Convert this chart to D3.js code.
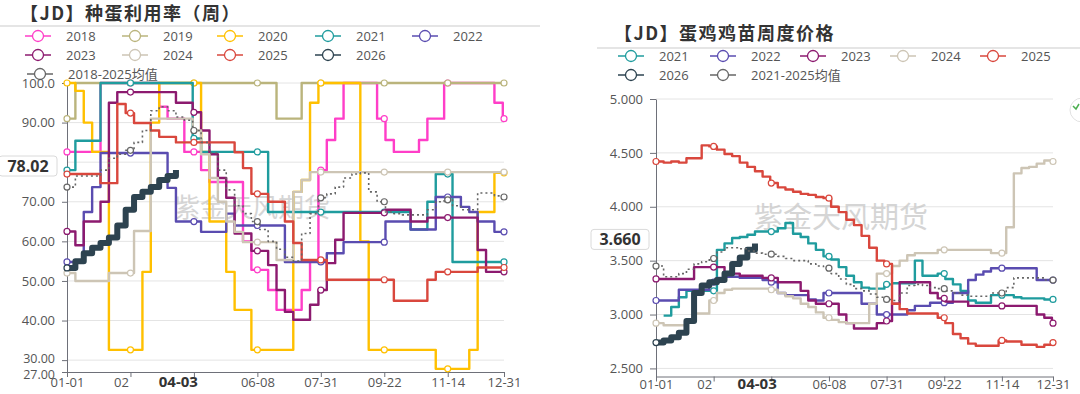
<!DOCTYPE html>
<html>
<head>
<meta charset="utf-8">
<script src="https://cdn.jsdelivr.net/npm/d3@7"></script>
<style>
  body { margin: 0; background: #fff; }
  svg { display: block; font-family: "Open Sans", "Noto Sans CJK SC", sans-serif; }
</style>
</head>
<body>
<svg id="chart" width="1080" height="394"></svg>
<script>
/* SHARED X AXIS (day of year, weekly data sits on day = week * 7) */
const xTickDays = [0, 53, 106, 159, 212, 265, 318, 365];
const xTickLabels = ["01-01", "02-23", "04-16", "06-08", "07-31", "09-22", "11-14", "12-31"];
const pointerDay = 93;
const pointerLabel = "04-03";

/* LEFT: 种蛋利用率 (%) weekly */
const utilNames = ["2018", "2019", "2020", "2021", "2022", "2023", "2024", "2025", "2026", "2018-2025均值"];
const util2018 = [82.6, 82.6, 82.6, 82.6, 100, 100, 100, 100, 100, 100, 100, 94, 91, 91, 82.6, 82.6, 78, 75, 75, 75, 75, 60, 52.8, 52.8, 47.7, 42.7, 42.7, 42.7, 47.7, 55, 78, 85.6, 91, 100, 100, 100, 100, 91, 85.6, 82.6, 82.6, 82.6, 85.6, 91, 91, 100, 100, 100, 100, 100, 100, 95, 91];
const util2019 = [91, 100, 100, 100, 100, 100, 100, 100, 100, 100, 100, 100, 100, 100, 100, 100, 100, 100, 100, 100, 100, 100, 100, 100, 100, 91, 91, 91, 100, 100, 100, 100, 100, 100, 100, 100, 100, 100, 100, 100, 100, 100, 100, 100, 100, 100, 100, 100, 100, 100, 100, 100, 100];
const util2020 = [100, 98, 90, 82.6, 82.6, 32.6, 32.6, 32.6, 32.6, 52.3, 90, 100, 100, 100, 100, 100, 82.6, 65, 65, 52.3, 42.7, 42.7, 32.6, 32.6, 32.6, 32.6, 32.6, 72.5, 75.5, 95, 100, 100, 100, 100, 100, 60, 32.6, 32.6, 32.6, 32.6, 32.6, 32.6, 32.6, 32.6, 27.8, 27.8, 27.8, 27.8, 32.6, 67.4, 67.4, 77.3, 77.3];
const util2021 = [78, 85.4, 85.4, 85.4, 100, 100, 100, 100, 100, 100, 100, 100, 100, 100, 100, 86, 82.6, 82.6, 82.6, 82.6, 82.6, 82.6, 82.6, 82.6, 67.4, 67.4, 67.4, 67.4, 67.4, 67.4, 67.4, 67.4, 67.4, 67.4, 67.4, 67.4, 67.4, 67.4, 67.4, 67.4, 67.4, 63, 63, 70, 77, 77, 54.8, 54.8, 54.8, 54.8, 54.8, 54.8, 54.8];
const util2022 = [54.8, 54.8, 67.4, 73.7, 82.3, 82.3, 82.3, 82.3, 82.3, 82.3, 82.3, 82.3, 73.5, 65, 65, 65, 62.4, 62.4, 62.4, 67, 64, 64, 64, 64, 64, 64, 54.8, 54.8, 54.8, 54.8, 54.8, 57, 57, 59.8, 59.8, 59.8, 59.8, 59.8, 65, 65, 65, 63, 63, 63, 71.2, 71.2, 71.2, 68.7, 67.4, 65, 65, 62.4, 62.4];
const util2023 = [62.5, 59, 65, 65, 70, 95, 97.7, 97.7, 97.7, 97.7, 97.7, 97.7, 97.7, 95, 95, 92.6, 88, 82, 76, 71, 62, 62, 57.6, 57.6, 54, 47.7, 42.2, 40.2, 40.2, 44, 47.7, 54.5, 60.4, 67.2, 67.2, 67.2, 67.2, 67.2, 68, 68, 68, 65, 65, 66, 66, 66, 66, 66, 66, 57.8, 52.3, 52.3, 52.3];
const util2024 = [52, 50, 50, 50, 50, 52, 52, 52, 62.6, 62.6, 91, 91, 91, 91, 91, 88, 82, 76, 70, 65, 62.4, 59.8, 59.8, 59.8, 59.8, 55.3, 55.3, 72.5, 75.5, 77.5, 77.5, 77.5, 77.5, 77.5, 77.5, 77.5, 77.5, 77.5, 77.5, 77.5, 77.5, 77.5, 77.5, 77.5, 77.5, 77.5, 77.5, 77.5, 77.5, 77.5, 77.5, 77.5, 77.5];
const util2025 = [77, 77, 77, 77, 74.7, 74.7, 94.7, 92.4, 89.9, 89.9, 88, 86.4, 86.4, 85, 85, 85, 85, 85, 85, 85, 82.5, 78.5, 72, 72, 70, 70, 65, 59.6, 55.3, 55.3, 55.3, 50.3, 50.3, 50.3, 50.3, 50.3, 50.3, 50.3, 50.3, 45, 45, 45, 45, 50.3, 52.3, 52.3, 52.3, 52.3, 52.3, 53.4, 53.4, 53.4, 53.4];
const util2026 = [53.3, 55, 57, 58.4, 59.6, 61, 64, 68, 71.2, 72.5, 73.7, 75.5, 76.5, 78.02];
const utilAvg = [73.7, 76.5, 76.5, 76.5, 78, 81, 82, 83, 85, 88, 93, 94, 93, 91.4, 90.6, 88, 85, 82.3, 78, 73, 69, 67, 65, 63, 60, 58, 56, 55, 62, 67, 71, 72, 73.7, 76, 77, 77.3, 72.5, 70, 67.4, 67, 66.7, 66.7, 66.7, 68, 70, 70.5, 69, 68, 68, 72.2, 72.2, 71.5, 71.2];
const utilYTicks = [27, 30, 40, 50, 60, 70, 90, 100];
const utilYTickLabels = ["27.00", "30.00", "40.00", "50.00", "60.00", "70.00", "90.00", "100.0"];
const utilGrid = [30, 40, 50, 60, 70, 80, 90, 100];
const utilLatest = 78.02;
const utilLatestLabel = "78.02";

/* RIGHT: 蛋鸡鸡苗周度价格 weekly */
const priceNames = ["2021", "2022", "2023", "2024", "2025", "2026", "2021-2025均值"];
const price2021 = [null, 2.99, 3.07, 3.16, 3.22, 3.22, 3.22, 3.22, 3.6, 3.66, 3.71, 3.72, 3.74, 3.77, 3.77, 3.77, 3.8, 3.85, 3.75, 3.72, 3.66, 3.6, 3.54, 3.51, 3.44, 3.36, 3.3, 3.25, 3.24, 3.24, 3.28, 3.29, 3.29, 3.29, 3.5, 3.36, 3.36, 3.38, 3.33, 3.28, 3.22, 3.13, 3.11, 3.11, 3.18, 3.18, 3.18, 3.16, 3.15, 3.15, 3.15, 3.14, 3.14];
const price2022 = [3.13, 3.13, 3.13, 3.23, 3.23, 3.23, 3.23, 3.3, 3.34, 3.35, 3.35, 3.34, 3.34, 3.34, 3.32, 3.3, 3.2, 3.18, 3.18, 3.18, 3.14, 3.13, 3.2, 3.2, 3.2, 3.2, 3.2, 3.1, 3.1, 3.0, 3.0, 3.0, 3.0, 3.04, 3.08, 3.08, 3.11, 3.11, 3.11, 3.2, 3.2, 3.32, 3.37, 3.4, 3.43, 3.43, 3.43, 3.43, 3.43, 3.43, 3.32, 3.32, 3.32];
const price2023 = [3.33, 3.33, 3.33, 3.33, 3.33, 3.44, 3.44, 3.44, 3.44, 3.38, 3.38, 3.36, 3.36, 3.36, 3.34, 3.34, 3.3, 3.3, 3.3, 3.22, 3.13, 3.1, 3.1, 3.1, 3.0, 2.92, 2.87, 2.87, 2.87, 2.92, 2.94, 3.1, 3.3, 3.3, 3.3, 3.3, 3.2, 3.15, 3.12, 3.12, 3.12, 3.08, 3.08, 3.08, 3.08, 3.08, 3.08, 3.08, 3.08, 3.08, 3.0, 2.97, 2.92];
const price2024 = [2.92, 2.9, 2.9, 2.9, 2.95, 3.01, 3.01, 3.13, 3.2, 3.23, 3.24, 3.24, 3.24, 3.24, 3.24, 3.23, 3.2, 3.17, 3.15, 3.1, 3.07, 3.02, 2.97, 2.95, 2.93, 2.92, 2.92, 2.92, 3.1, 3.38, 3.38, 3.45, 3.5, 3.55, 3.57, 3.57, 3.57, 3.6, 3.6, 3.6, 3.6, 3.6, 3.6, 3.6, 3.57, 3.57, 3.81, 4.31, 4.36, 4.37, 4.4, 4.43, 4.42];
const price2025 = [4.42, 4.41, 4.42, 4.41, 4.45, 4.45, 4.57, 4.56, 4.53, 4.49, 4.47, 4.41, 4.37, 4.33, 4.28, 4.22, 4.18, 4.16, 4.14, 4.12, 4.11, 4.09, 4.08, 4.0, 3.95, 3.88, 3.83, 3.73, 3.62, 3.5, 3.47, 3.1, 3.05, 3.01, 3.01, 3.01, 3.01, 2.97, 2.92, 2.82, 2.78, 2.73, 2.71, 2.71, 2.71, 2.76, 2.75, 2.75, 2.72, 2.72, 2.7, 2.72, 2.74];
const price2026 = [2.74, 2.76, 2.79, 2.83, 2.94, 3.2, 3.27, 3.3, 3.32, 3.38, 3.47, 3.53, 3.6, 3.66];
const priceAvg = [3.45, 3.35, 3.35, 3.38, 3.42, 3.47, 3.49, 3.52, 3.58, 3.62, 3.62, 3.61, 3.59, 3.57, 3.56, 3.56, 3.54, 3.52, 3.5, 3.5, 3.47, 3.45, 3.43, 3.38, 3.33, 3.28, 3.24, 3.22, 3.19, 3.16, 3.14, 3.13, 3.2, 3.27, 3.28, 3.27, 3.25, 3.24, 3.22, 3.2, 3.18, 3.17, 3.17, 3.17, 3.2, 3.2, 3.25, 3.34, 3.34, 3.34, 3.34, 3.32, 3.32];
const priceYTicks = [2.5, 3, 3.5, 4, 4.5, 5];
const priceYTickLabels = ["2.500", "3.000", "3.500", "4.000", "4.500", "5.000"];
const priceLatest = 3.66;
const priceLatestLabel = "3.660";

/* STYLES */
const colors = {
  "2018": "#ff3ec8", "2019": "#bab47c", "2020": "#ffc000", "2021": "#1f9c9e",
  "2022": "#5a4cb0", "2023": "#8c1a6f", "2024": "#cdc5b5", "2025": "#d9473d",
  "2026": "#2d4350", "avg": "#666"
};
const watermark = "紫金天风期货";

const svg = d3.select("#chart");

function stepPoints(vals) {
  const pts = [];
  vals.forEach((v, i) => { if (v != null) pts.push({ day: i * 7, v: v }); });
  if (vals.length === 53) pts.push({ day: 365, v: vals[52] });
  return pts;
}

function seriesStyle(name, values) {
  if (name === "2026") return { name, values, color: colors["2026"], width: 6, markers: "start" };
  if (name.indexOf("均值") > 0) return { name, values, color: colors.avg, width: 1.6, dash: "2,3", markers: "all" };
  return { name, values, color: colors[name], width: 2.4, markers: "all" };
}

function drawPanel(p) {
  const x = d3.scaleLinear().domain([0, 365]).range([p.x0, p.x1]);
  const y = d3.scaleLinear().domain(p.yDomain).range([p.yBottom, p.yTop]);
  const g = svg.append("g");

  // title and rule under it
  g.append("text")
    .attr("x", p.titleX).attr("y", p.titleY)
    .attr("font-size", 18).attr("font-weight", "bold").attr("fill", "#333")
    .attr("letter-spacing", 1.5)
    .style("font-family", '"Noto Sans CJK SC", sans-serif')
    .text(p.title);
  g.append("line")
    .attr("x1", p.ruleX0).attr("x2", p.ruleX1).attr("y1", p.ruleY).attr("y2", p.ruleY)
    .attr("stroke", "#dcdcdc").attr("stroke-width", 1.5);

  // legend
  p.series.forEach((s, i) => {
    const [lx, ly] = p.legendPos[i];
    const lg = g.append("g").attr("transform", `translate(${lx},${ly})`);
    lg.append("line").attr("x1", 0).attr("x2", 26).attr("stroke", s.color).attr("stroke-width", 1.5);
    lg.append("circle").attr("cx", 13).attr("r", 5.5)
      .attr("fill", "#fff").attr("stroke", s.color).attr("stroke-width", 1.3);
    lg.append("text").attr("x", 41).attr("dy", "0.35em")
      .attr("font-size", 13).attr("fill", "#555").text(s.name);
  });

  // grid
  g.append("g").selectAll("line").data(p.grid).join("line")
    .attr("x1", p.x0).attr("x2", p.x1)
    .attr("y1", d => y(d)).attr("y2", d => y(d))
    .attr("stroke", "#e4e4e4");

  // watermark
  g.append("text")
    .attr("x", p.wmX).attr("y", p.wmY)
    .attr("font-size", p.wmSize).attr("fill", "#c8c8c8").attr("opacity", 0.75)
    .style("font-family", '"Noto Sans CJK SC", sans-serif')
    .text(watermark);

  // axes
  const yAx = g.append("g").attr("transform", `translate(${p.x0},0)`)
    .call(d3.axisLeft(y).tickValues(p.yTicks)
      .tickFormat((d, i) => p.yTickLabels[i])
      .tickSize(p.yTickSize).tickSizeOuter(0).tickPadding(7));
  const xAx = g.append("g").attr("transform", `translate(0,${p.yBottom})`)
    .call(d3.axisBottom(x).tickValues(xTickDays)
      .tickFormat((d, i) => xTickLabels[i])
      .tickSize(5).tickSizeOuter(0).tickPadding(p.xTickPad));
  [yAx, xAx].forEach(ax => {
    ax.select(".domain").attr("stroke", "#6e7079");
    ax.selectAll(".tick line").attr("stroke", "#6e7079");
    ax.selectAll(".tick text").attr("fill", "#555").attr("font-size", 13)
      .style("font-family", '"Open Sans", sans-serif');
  });
  // the lowest two y labels sit tight together; ease them apart a little
  if (p.nudgeBottom) {
    yAx.selectAll(".tick text").filter(d => d === p.yDomain[0]).attr("dy", "0.55em").attr("font-size", 12.5);
    yAx.selectAll(".tick text").filter(d => d === p.yTicks[1]).attr("dy", "0.2em").attr("font-size", 12.5);
  }

  // series
  const line = d3.line().x(d => x(d.day)).y(d => y(d.v)).curve(d3.curveStepAfter);
  p.series.forEach(s => {
    const pts = stepPoints(s.values);
    g.append("path").datum(pts)
      .attr("d", line).attr("fill", "none")
      .attr("stroke", s.color).attr("stroke-width", s.width)
      .attr("stroke-dasharray", s.dash || null)
      .attr("stroke-linejoin", "round");

    const lastDay = pts[pts.length - 1].day;
    let marks;
    if (s.markers === "start") {
      marks = [pts[0]];
    } else {
      marks = xTickDays.filter(d => d <= lastDay).map(d => {
        const v = s.values[Math.min(Math.floor(d / 7), s.values.length - 1)];
        return { day: d, v: v };
      }).filter(d => d.v != null);
    }
    g.append("g").selectAll("circle").data(marks).join("circle")
      .attr("cx", d => x(d.day)).attr("cy", d => y(d.v)).attr("r", 3)
      .attr("fill", "#fff").attr("stroke", s.color).attr("stroke-width", 1.2);
  });

  // x pointer label; tick labels behind it are cut back to what stays visible
  const px = x(pointerDay);
  const boxL = px - p.pointerHalfW, boxR = px + p.pointerHalfW;
  xAx.selectAll(".tick").each(function (d) {
    const t = d3.select(this).select("text");
    const node = t.node();
    const left = x(d) - node.getComputedTextLength() / 2;
    const right = x(d) + node.getComputedTextLength() / 2;
    if (right <= boxL || left >= boxR) return;
    t.attr("text-anchor", "start").attr("x", left - x(d));
    let str = t.text();
    while (str.length && left + node.getComputedTextLength() > boxL) {
      str = str.slice(0, -1);
      t.text(str);
    }
    if (!str.length) t.remove();
  });
  g.append("text").attr("x", px).attr("y", p.pointerY)
    .attr("text-anchor", "middle").attr("font-size", 15).attr("font-weight", "bold")
    .attr("fill", "#333").text(pointerLabel);

  // y pointer label (latest value)
  const py = y(p.latest) - 4;
  g.append("rect").attr("x", p.latestBoxX).attr("y", py - 10)
    .attr("width", p.latestBoxW).attr("height", 20).attr("rx", 3)
    .attr("fill", "#fff").attr("stroke", "#dadada");
  g.append("text").attr("x", p.latestBoxX + p.latestBoxW / 2).attr("y", py)
    .attr("dy", "0.35em").attr("text-anchor", "middle")
    .attr("font-size", 16).attr("font-weight", "bold").attr("fill", "#333")
    .text(p.latestLabel);
}

const utilValues = [util2018, util2019, util2020, util2021, util2022, util2023, util2024, util2025, util2026, utilAvg];
drawPanel({
  title: "【JD】种蛋利用率（周）", titleX: 20, titleY: 20,
  ruleX0: 0, ruleX1: 540, ruleY: 26,
  series: utilNames.map((n, i) => seriesStyle(n, utilValues[i])),
  legendPos: [[25, 36], [122, 36], [217, 36], [315, 36], [412, 36],
              [25, 55], [122, 55], [217, 55], [315, 55], [27, 74]],
  x0: 67, x1: 504, yTop: 83, yBottom: 372, yDomain: [27, 100],
  yTicks: utilYTicks, yTickLabels: utilYTickLabels, yTickSize: 5, grid: utilGrid,
  nudgeBottom: true,
  xTickPad: 1, pointerY: 387, pointerHalfW: 46,
  wmX: 174, wmY: 217, wmSize: 26,
  latest: utilLatest, latestLabel: utilLatestLabel, latestBoxX: -1, latestBoxW: 58
});

const priceValues = [price2021, price2022, price2023, price2024, price2025, price2026, priceAvg];
drawPanel({
  title: "【JD】蛋鸡鸡苗周度价格", titleX: 614, titleY: 40,
  ruleX0: 597, ruleX1: 1080, ruleY: 48,
  series: priceNames.map((n, i) => seriesStyle(n, priceValues[i])),
  legendPos: [[618, 56], [710, 56], [800, 56], [890, 56], [980, 56], [618, 75], [710, 75]],
  x0: 656, x1: 1053, yTop: 99, yBottom: 376.5, yDomain: [2.425, 5],
  yTicks: priceYTicks, yTickLabels: priceYTickLabels, yTickSize: 6, grid: priceYTicks,
  nudgeBottom: false,
  xTickPad: -2, pointerY: 389, pointerHalfW: 42,
  wmX: 754, wmY: 228, wmSize: 29,
  latest: priceLatest, latestLabel: priceLatestLabel, latestBoxX: 591, latestBoxW: 58
});

// toolbox button peeking in at the right edge
svg.append("circle").attr("cx", 1082).attr("cy", 110).attr("r", 12)
  .attr("fill", "#fff").attr("stroke", "#e2e2e2");
svg.append("path").attr("d", "M1073,106 l3,3 l3,-5").attr("fill", "none")
  .attr("stroke", "#4caf50").attr("stroke-width", 1.5);
</script>
</body>
</html>
